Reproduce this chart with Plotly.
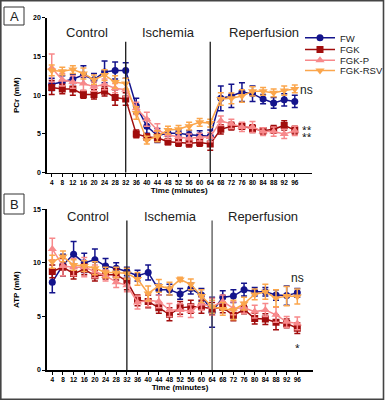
import plotly.graph_objects as go

W, H = 385, 400

times = [4, 8, 12, 16, 20, 24, 28, 32, 36, 40, 44, 48, 52, 56, 60, 64,
         68, 72, 76, 80, 84, 88, 92, 96]
series_names = ["FW", "FGK", "FGK-P", "FGK-RSV"]

# Panel A: PCr (mM)
pcr_fw = [11.4, 11.7, 12.1, 12.6, 12.0, 13.0, 13.2, 13.2,
          8.6, 6.0, 4.8, 5.1, 5.1, 4.9, 4.8, 4.7,
          9.6, 9.9, 10.4, 10.2, 9.5, 9.0, 9.4, 9.2]
pcr_fw_err = [0.8, 0.8, 0.6, 1.2, 0.8, 1.4, 1.1, 1.0,
              1.0, 0.9, 0.9, 0.4, 0.4, 0.5, 0.6, 0.8,
              1.6, 1.5, 1.2, 1.0, 0.6, 0.7, 0.8, 0.8]
pcr_fgk = [11.0, 10.8, 10.8, 10.1, 10.1, 10.5, 9.7, 9.5,
           5.0, 4.6, 4.5, 4.0, 3.9, 3.8, 3.9, 3.7,
           5.6, 6.0, 6.0, 5.7, 5.4, 5.6, 6.1, 5.5]
pcr_fgk_err = [0.9, 0.6, 0.8, 0.5, 0.6, 0.6, 1.0, 0.8,
               0.5, 0.4, 0.5, 0.4, 0.5, 0.5, 0.5, 0.8,
               0.6, 0.5, 0.4, 0.5, 0.4, 0.5, 0.6, 0.5]
pcr_fgkp = [13.5, 12.0, 11.7, 11.5, 11.1, 11.4, 10.9, 10.7,
            8.3, 6.9, 5.5, 4.9, 4.6, 4.4, 4.6, 4.6,
            6.7, 6.3, 5.9, 5.9, 5.3, 5.3, 5.0, 5.4]
pcr_fgkp_err = [1.8, 0.8, 0.8, 0.9, 0.6, 0.7, 0.6, 0.9,
                0.8, 0.9, 0.8, 0.6, 0.6, 0.6, 0.5, 0.6,
                0.6, 0.6, 0.6, 0.7, 0.5, 0.6, 0.6, 0.6]
pcr_rsv = [13.2, 13.1, 13.3, 12.8, 12.0, 12.6, 11.7, 11.5,
           7.7, 4.2, 4.7, 5.5, 5.6, 6.0, 6.5, 6.4,
           9.5, 9.6, 9.9, 10.5, 10.5, 10.3, 10.6, 10.8]
pcr_rsv_err = [0.7, 0.5, 0.5, 0.7, 0.6, 0.7, 0.8, 0.7,
               0.8, 0.5, 0.7, 0.5, 0.5, 0.5, 0.5, 0.5,
               0.8, 0.7, 0.8, 0.6, 0.5, 0.5, 0.6, 0.5]

# Panel B: ATP (mM)
atp_fw = [8.2, 9.8, 10.8, 10.0, 10.3, 9.7, 9.5, 9.2,
          8.8, 9.1, 7.5, 7.5, 7.1, 7.6, 7.0, 5.4,
          6.8, 6.9, 7.5, 7.3, 7.3, 7.0, 6.95, 7.2]
atp_fw_err = [1.0, 1.0, 1.2, 0.9, 1.0, 0.7, 0.5, 0.4,
              0.5, 0.7, 0.5, 0.5, 0.5, 0.5, 0.6, 1.4,
              0.6, 0.6, 0.6, 0.4, 0.4, 0.5, 0.9, 0.4]
atp_fgk = [9.2, 9.6, 9.0, 9.4, 8.8, 8.9, 8.9, 8.3,
           6.5, 6.4, 5.8, 5.2, 5.8, 5.9, 5.9, 5.7,
           5.85, 5.1, 5.65, 4.8, 4.75, 4.45, 4.35, 3.9]
atp_fgk_err = [0.6, 0.8, 0.5, 0.5, 0.5, 0.4, 0.5, 0.8,
               0.5, 0.6, 0.5, 0.6, 0.6, 0.6, 0.6, 0.6,
               0.5, 0.5, 0.4, 0.5, 0.5, 0.7, 0.4, 0.5]
atp_fgkp = [11.3, 9.7, 9.6, 9.6, 9.2, 8.8, 8.2, 7.9,
            6.3, 6.5, 6.4, 5.6, 5.6, 5.5, 6.2, 5.9,
            6.4, 5.75, 5.8, 5.45, 5.6, 5.15, 4.5, 4.35]
atp_fgkp_err = [1.0, 0.9, 0.8, 0.9, 0.6, 0.5, 0.5, 0.6,
                0.6, 0.6, 0.6, 0.6, 0.6, 0.6, 0.6, 0.8,
                0.6, 0.6, 0.5, 0.6, 0.6, 0.7, 0.5, 0.6]
atp_rsv = [10.1, 10.6, 9.8, 9.7, 9.5, 9.1, 9.1, 9.0,
           8.5, 7.15, 7.85, 7.6, 8.45, 8.0, 6.9, 5.9,
           5.7, 5.6, 6.2, 7.05, 7.3, 6.7, 6.9, 6.85]
atp_rsv_err = [0.6, 0.5, 0.5, 0.5, 0.6, 0.5, 0.5, 0.5,
               0.6, 0.7, 0.6, 0.6, 0.2, 0.5, 0.6, 0.6,
               0.6, 0.9, 0.6, 0.5, 0.7, 0.8, 0.9, 0.7]

phase_labels = ["Control", "Ischemia", "Reperfusion"]
phase_bounds = [32, 64]

colors = ["#14148c", "#a10d0d", "#f7898b", "#fba64c"]
symbols = ["circle", "square", "triangle-up", "triangle-down"]
sizes = [7, 7, 8, 8]

FONT = "Arial, Liberation Sans, sans-serif"


def px(x):
    return x / W


def py(y):
    return 1 - y / H


fig = go.Figure()

panelA = [(pcr_fw, pcr_fw_err), (pcr_fgk, pcr_fgk_err),
          (pcr_fgkp, pcr_fgkp_err), (pcr_rsv, pcr_rsv_err)]
panelB = [(atp_fw, atp_fw_err), (atp_fgk, atp_fgk_err),
          (atp_fgkp, atp_fgkp_err), (atp_rsv, atp_rsv_err)]
legend_ids = ["legend", "legend2", "legend3", "legend4"]

for panel, (xa, ya, show) in zip([panelA, panelB], [("x", "y", True), ("x2", "y2", False)]):
    for i, (vals, errs) in enumerate(panel):
        fig.add_trace(go.Scatter(
            x=times, y=vals, mode="lines+markers", name=series_names[i],
            xaxis=xa, yaxis=ya, showlegend=show, legend=legend_ids[i],
            line=dict(color=colors[i], width=1.5),
            marker=dict(symbol=symbols[i], size=sizes[i], color=colors[i], line=dict(width=0)),
            error_y=dict(type="data", array=errs, visible=True, color=colors[i],
                         thickness=1.5, width=3),
            hoverinfo="skip",
        ))

axis_common = dict(showline=True, linecolor="black", linewidth=1.5, ticks="outside",
                   ticklen=3, tickwidth=1, tickcolor="black", showgrid=False, zeroline=False,
                   mirror=False)

legend_style = dict(x=px(300), xanchor="left", yanchor="top",
                    font=dict(size=9.5, color="#222"), bgcolor="rgba(0,0,0,0)",
                    itemwidth=30)
legend_tops = [23.3, 35.0, 45.7, 56.0]

fig.update_layout(
    width=W, height=H, margin=dict(l=0, r=0, t=0, b=0, autoexpand=False),
    paper_bgcolor="white", plot_bgcolor="white",
    font=dict(family=FONT, color="black"),
    xaxis=dict(domain=[px(46.7), px(311.7)], range=[2.1, 102.4], anchor="y",
               tickvals=times, tickfont=dict(size=6.5, weight="bold"),
               title=dict(text="Time (minutes)", font=dict(size=8, weight="bold"), standoff=2),
               **axis_common),
    yaxis=dict(domain=[py(172.7), py(17.7)], range=[0, 20], anchor="x",
               tickvals=[0, 5, 10, 15, 20], tickfont=dict(size=7, weight="bold"),
               title=dict(text="PCr (mM)", font=dict(size=8, weight="bold"), standoff=12),
               **axis_common),
    xaxis2=dict(domain=[px(46.7), px(313.3)], range=[1.9, 102.0], anchor="y2",
                tickvals=times, tickfont=dict(size=6.5, weight="bold"),
                title=dict(text="Time (minutes)", font=dict(size=8, weight="bold"), standoff=2),
                **axis_common),
    yaxis2=dict(domain=[py(370), py(209.3)], range=[0, 15], anchor="x2",
                tickvals=[0, 5, 10, 15], tickfont=dict(size=7, weight="bold"),
                title=dict(text="ATP (mM)", font=dict(size=8, weight="bold"), standoff=12),
                **axis_common),
)
for lid, top in zip(legend_ids, legend_tops):
    fig.update_layout({lid: dict(y=py(top), **legend_style)})

shapes = []
# phase boundary lines
for xb in phase_bounds:
    shapes.append(dict(type="line", xref="x", yref="y", x0=xb, x1=xb,
                       y0=(0 if xb == 32 else -0.45), y1=16.9,
                       line=dict(color="#1a1a1a", width=1.3)))
for xb in phase_bounds:
    shapes.append(dict(type="line", xref="x2", yref="y2", x0=xb, x1=xb,
                       y0=(0 if xb == 32 else -0.75), y1=13.95,
                       line=dict(color="#1a1a1a" if xb == 32 else "#555", width=1.3)))
# panel label boxes
for (x0, y0, x1, y1) in [(4, 7, 24, 25), (4, 194, 24, 214)]:
    shapes.append(dict(type="rect", xref="paper", yref="paper",
                       x0=px(x0), x1=px(x1), y0=py(y1), y1=py(y0),
                       line=dict(color="#333", width=1)))
# outer frame
shapes.append(dict(type="rect", xref="paper", yref="paper",
                   x0=px(0.8), x1=px(383.5), y0=py(399.2), y1=py(0.8),
                   line=dict(color="#444", width=1.6)))
fig.update_layout(shapes=shapes)

ann = []


def add_text(text, x, y, size, **kw):
    ann.append(dict(text=text, x=px(x), y=py(y), xref="paper", yref="paper",
                    xanchor="center", yanchor="middle", showarrow=False,
                    font=dict(size=size, color="#222"), **kw))


for text, (x, y) in zip(["A", "B"], [(14, 16), (14, 204)]):
    add_text(text, x, y, 13)
for text, x in zip(phase_labels, [87.3, 168.3, 263.8]):
    add_text(text, x, 32.3, 13)
for text, x in zip(phase_labels, [88.3, 170.3, 262.8]):
    add_text(text, x, 216.7, 13)
add_text("ns", 306.7, 90, 12)
add_text("ns", 297.5, 278.3, 12)
# asterisks: short clipped boxes so stacked marks do not collide
for text, x, y in [("**", 306.7, 127.3), ("**", 306.7, 134.5), ("*", 297.3, 344.5)]:
    add_text(text, x, y, 12, height=6, valign="top")
fig.update_layout(annotations=ann)

fig.write_html("out.html", config={"displayModeBar": False, "staticPlot": True},
               post_script="document.body.style.margin='0';document.body.style.overflow='hidden';")
